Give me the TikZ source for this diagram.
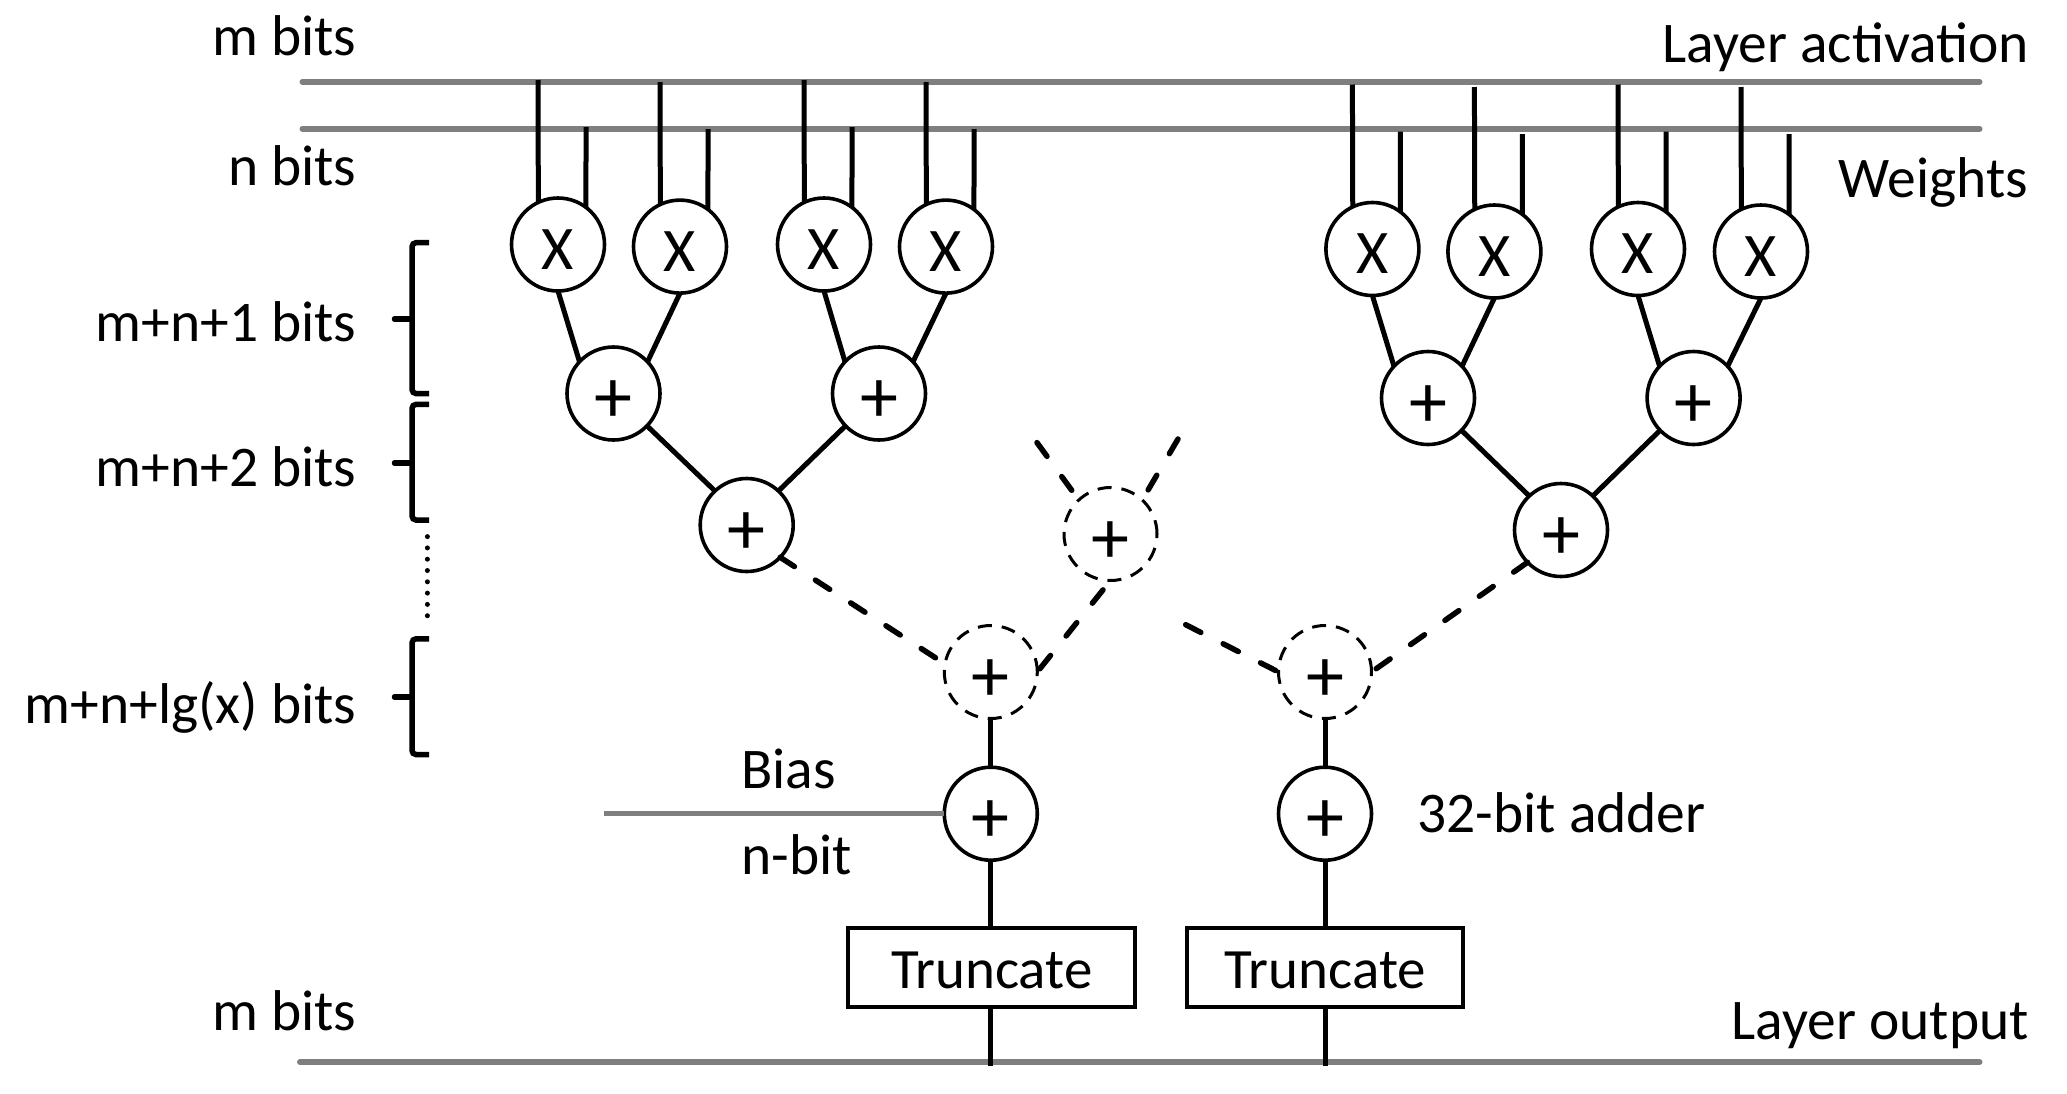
\documentclass[tikz,border=0pt]{standalone}
\usepackage{fontspec}
\setmainfont{Carlito}
\tikzset{
  x=1pt,y=-1pt,
  bus/.style={draw=busgray,line width=6pt,line cap=round},
  wire/.style={draw=black,line width=5pt},
  dashwire/.style={draw=black,line width=5.5pt,line cap=round,dash pattern=on 17pt off 25pt,dash phase=30pt},
  opnode/.style={circle,draw=black,fill=white,line width=3.6pt,minimum size=93pt,inner sep=0pt,outer sep=0pt},
  mulop/.style={opnode,text height=49pt,text depth=0pt,font=\fontsize{62}{64}\selectfont},
  addop/.style={opnode,text height=58pt,text depth=0pt,font=\fontsize{76}{80}\selectfont},
  dashop/.style={addop,line width=3pt,dash pattern=on 14pt off 10pt,fill=none},
  txt/.style={inner sep=0pt,outer sep=0pt,font=\fontsize{57.5}{60}\selectfont},
  lbl/.style={txt,anchor=base east},
  lbll/.style={txt,anchor=base west},
  truncbox/.style={rectangle,draw=black,fill=white,line width=4pt,minimum height=79pt,inner sep=0pt,outer sep=0pt,text height=42pt,text depth=0pt,font=\fontsize{57}{60}\selectfont},
  brack/.style={draw=black,line width=5.5pt,rounded corners=4pt},
  tick/.style={draw=black,line width=5.5pt,line cap=round},
  dots/.style={draw=black,line width=5pt,line cap=round,dash pattern=on 0pt off 11.3pt},
}
\definecolor{busgray}{HTML}{7F7F7F}
\begin{document}
\begin{tikzpicture}
\useasboundingbox (0,0) rectangle (2067,1093);
% buses
\coordinate (actL) at (302.5,81.7);  \coordinate (actR) at (1979.5,81.7);
\coordinate (wgtL) at (302.5,128.7); \coordinate (wgtR) at (1979.5,128.7);
\coordinate (outL) at (300,1062);  \coordinate (outR) at (1979.5,1062);
\coordinate (biasL) at (603.5,813.7);
\draw[bus] (actL) -- (actR);
\draw[bus] (wgtL) -- (wgtR);
\draw[bus] (outL) -- (outR);
% multipliers
\foreach \n/\x/\y in {m1/558/244.5,m2/680/246.6,m3/824/244.5,m4/946/246.6,m5/1372.4/249,m6/1494.4/251.5,m7/1638/249,m8/1761/251.5}{
  \node[mulop] (\n) at (\x,\y) {X};
  \coordinate (\n a) at (\x-20,\y-164.5);
  \coordinate (\n b) at (\x+28,\y-117.5);
  \draw[wire] (\n a) -- (\n.115);
  \draw[wire] (\n b) -- (\n.53);
}
% adders
\foreach \n/\x/\y in {p1/613.5/393.5,p2/879/393.5,p3/746.7/525,p4/1428/398,p5/1693.6/398,p6/1561/530,bl/990.8/813.7,br/1325/813.7}{
  \node[addop] (\n) at (\x,\y) {+};
}
\foreach \n/\x/\y in {dm/1110.5/534,dl/990.8/672,dr/1325/672}{
  \node[dashop] (\n) at (\x,\y) {+};
}
% tree connectors
\foreach \a/\b/\c in {m1/m2/p1,m3/m4/p2,m5/m6/p4,m7/m8/p5}{
  \draw[wire] (\a.south) -- (\c.137);
  \draw[wire] (\b.south) -- (\c.43);
}
\draw[wire] (p1.-44) -- (p3.133);
\draw[wire] (p2.224) -- (p3.47);
\draw[wire] (p4.-44) -- (p6.133);
\draw[wire] (p5.224) -- (p6.47);
% dashed connectors
\coordinate (dmA) at (1037,442.6);
\coordinate (dmB) at (1178,439);
\coordinate (drA) at (1185.7,624.7);
\draw[dashwire,dash phase=0pt] (dmA) -- (dm.133);
\draw[dashwire,dash phase=0pt] (dmB) -- (dm.47);
\draw[dashwire,dash phase=0pt] (p3.-44) -- (dl.170);
\draw[dashwire] (dm.south) -- (dl.east);
\draw[dashwire,dash phase=0pt] (drA) -- (dr.west);
\draw[dashwire,dash phase=0pt] (p6.224) -- (dr.east);
% truncate blocks
\node[truncbox,minimum width=287pt] (tl) at (991.8,967) {Truncate};
\node[truncbox,minimum width=276pt] (tr) at (1325.2,967) {Truncate};
\coordinate (outA) at (990.8,1066);
\coordinate (outB) at (1325,1066);
\draw[wire] (dl.south) -- (bl.north);
\draw[wire] (dr.south) -- (br.north);
\draw[wire] (bl.south) -- (bl.south |- tl.north);
\draw[wire] (br.south) -- (br.south |- tr.north);
\draw[wire] (bl.south |- tl.south) -- (outA);
\draw[wire] (br.south |- tr.south) -- (outB);
\draw[bus,line cap=butt,line width=5.5pt] (biasL) -- (bl.west);
% brackets
\coordinate (b1t) at (429,242.7); \coordinate (b1b) at (429,393.5); \coordinate (b1m) at (394.5,319);
\coordinate (b2t) at (429,404.4); \coordinate (b2b) at (429,520);   \coordinate (b2m) at (394.5,463);
\coordinate (b3t) at (429,638.8); \coordinate (b3b) at (429,754.5); \coordinate (b3m) at (394.5,697);
\coordinate (stem) at (412,0);
\foreach \i in {1,2,3}{
  \draw[brack] (b\i t) -- (stem |- b\i t) -- (stem |- b\i b) -- (b\i b);
  \draw[tick] (b\i m) -- (stem |- b\i m);
}
\coordinate (dotA) at (427.4,536.6);
\coordinate (dotB) at (427.4,621);
\draw[dots] (dotA) -- (dotB);
% labels
\node[lbl] (t1) at (356.5,55.5) {m bits};
\node[lbl] (t2) at (356.5,185.9) {n bits};
\node[lbl] (t3) at (356.5,341) {m+n+1 bits};
\node[lbl] (t4) at (356.5,486) {m+n+2 bits};
\node[lbl] (t5) at (356.5,723) {m+n+lg(x) bits};
\node[lbl] (t6) at (356.5,1030) {m bits};
\node[lbl] (t7) at (2029,62.8) {Layer activation};
\node[lbl] (t8) at (2028,197.9) {Weights};
\node[lbl] (t9) at (2028.7,1039.5) {Layer output};
\node[lbll] (t10) at (1417.5,832.5) {32-bit adder};
\node[lbll] (t11) at (741.5,788.4) {Bias};
\node[lbll] (t12) at (741.5,874.1) {n-bit};
\end{tikzpicture}
\end{document}
